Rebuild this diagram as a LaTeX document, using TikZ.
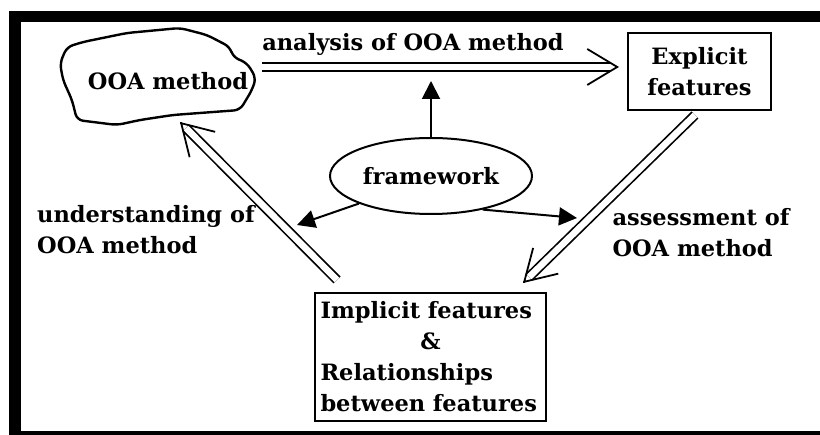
\documentclass[tikz,border=0pt]{standalone}
\usepackage{tikz}
\usepackage{fontspec}
\setmainfont{DejaVu Serif}
\usetikzlibrary{arrows.meta,shapes.geometric,positioning,calc}

\begin{document}
\begin{tikzpicture}[x=1pt,y=1pt,yscale=-1,xscale=1,
  every node/.style={font=\fontsize{22.5}{31}\selectfont\bfseries},
  featbox/.style={draw,line width=2.2pt,inner sep=5pt},
  dblshaft/.style={double,double distance=6.5pt,line width=1.7pt,shorten >=8.5pt},
  barbhead/.style={line width=1.8pt,-{Straight Barb[length=30pt,width=36pt]}},
  solidarrow/.style={line width=2pt,-{Triangle[length=18pt,width=18pt]}}]
\useasboundingbox (0,0) rectangle (820,435);

%Shape: Frame
\fill (9,11) rectangle (820,22);
\fill (9,11) rectangle (21,433);
\fill (9,431) rectangle (820,435);

%Shape: Blob
\draw [line width=2.4pt,rounded corners=6pt] (67,47) -- (83,42) -- (127,33) -- (180,28) -- (207,35) -- (230,47) -- (233,57) -- (247,63) -- (256,78) -- (252,90) -- (240,110) -- (173,115) -- (140,120) -- (117,125) -- (77,120) -- (72,100) -- (63,80) -- (60,63) -- cycle ;

% Text Node
\node (ooa) at (168,81) {OOA method};
\coordinate (ooa-e) at (262,67);
\coordinate (ooa-s) at (180,122);
% Text Node
\node (analysis) at (413,44) {analysis of OOA method};
% Text Node
\node [featbox,minimum width=143,minimum height=77,align=center] (explicit) at (699.5,71.5) {Explicit\\features};
\coordinate (expl-w) at (619,67);
\coordinate (expl-s) at (695,115);
% Text Node
\node [draw,ellipse,line width=2pt,minimum width=202,minimum height=76] (framework) at (431,176) {framework};
% Text Node
\node [align=left] (understanding) at (146,230) {understanding of\\OOA method};
% Text Node
\node [align=left] (assessment) at (701,233) {assessment of\\OOA method};
% Text Node
\node [featbox,minimum width=231,minimum height=128,text width=220,align=left,inner sep=3pt] (implicit) at (430.5,357) {Implicit features\\\hfill\&\hfill\null\\Relationships\\between features};
\coordinate (impl-nw) at (337,280);
\coordinate (impl-ne) at (523,283);
\coordinate (left-tip) at (297,225);
\coordinate (right-tip) at (577,218);

%Double Arrows
\draw [dblshaft] (ooa-e) -- (expl-w);
\draw [barbhead] ($(expl-w)!1pt!(ooa-e)$) -- (expl-w);
\draw [dblshaft] (expl-s) -- (impl-ne);
\draw [barbhead] ($(impl-ne)!1pt!(expl-s)$) -- (impl-ne);
\draw [dblshaft] (impl-nw) -- (ooa-s);
\draw [barbhead] ($(ooa-s)!1pt!(impl-nw)$) -- (ooa-s);
%Straight Lines
\draw [solidarrow] (framework.north) -- (framework.north |- ooa-e) [shorten >=14pt];
\draw [solidarrow] (framework.south west) -- (left-tip);
\draw [solidarrow] (framework.-33) -- (right-tip);

\end{tikzpicture}
\end{document}
